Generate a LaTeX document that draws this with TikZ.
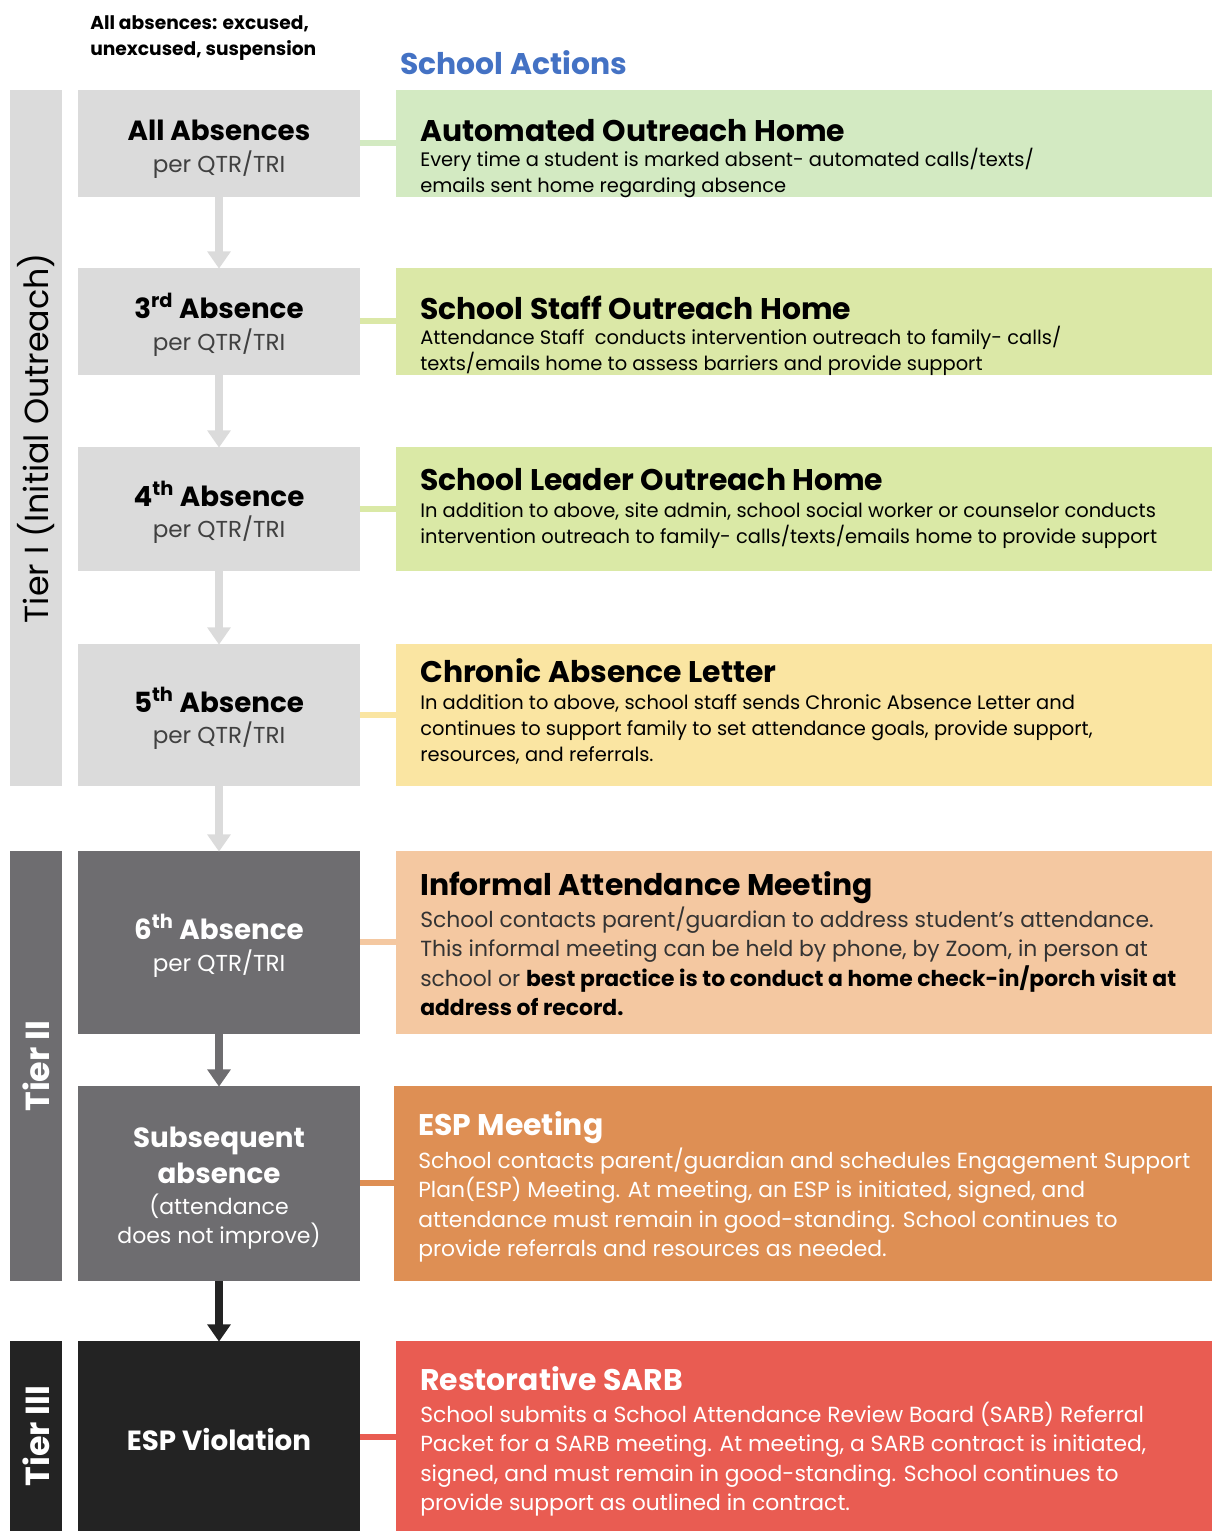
\documentclass[tikz,border=0pt]{standalone}
\usepackage{fontspec}
\setmainfont{Poppins}
\usetikzlibrary{positioning,fit,arrows.meta}

\definecolor{lightgrey}{RGB}{219,219,219}
\definecolor{midgrey}{RGB}{110,109,112}
\definecolor{nearblack}{RGB}{35,35,35}
\definecolor{actblue}{RGB}{68,114,196}
\definecolor{autogreen}{RGB}{211,234,194}
\definecolor{staffgreen}{RGB}{219,232,167}
\definecolor{leadgreen}{RGB}{218,233,166}
\definecolor{letteryellow}{RGB}{250,229,162}
\definecolor{meetpeach}{RGB}{244,200,161}
\definecolor{esporange}{RGB}{222,143,84}
\definecolor{sarbred}{RGB}{233,92,82}

% stacked lines, baseline on the first line
\newcommand\leftlines[1]{\vtop{\let\\\cr\halign{##\hfil\cr#1\cr}}}
\newcommand\midlines[1]{\vtop{\let\\\cr\halign{\hfil##\hfil\cr#1\cr}}}

\tikzset{
  box/.style={inner sep=0pt, outer sep=0pt, draw=none},
  tierbar/.style={box, fill=#1},
  stepbox/.style={box, fill=#1},
  actbox/.style={box, fill=#1},
  link/.style={line width=4.5pt, draw=#1},
  flow/.style={line width=6pt, draw=#1, -{Triangle[width=17pt,length=13pt]}, shorten >=-0.5pt},
  acthead/.style={anchor=base west, inner sep=0pt, font=\fontsize{22.4}{26}\selectfont\bfseries},
  actbody/.style={anchor=base west, inner sep=0pt, font=\fontsize{14.6}{19.5}\selectfont},
  actbodyl/.style={anchor=base west, inner sep=0pt, font=\fontsize{16.4}{22.2}\selectfont},
  steptitle/.style={anchor=base, inner sep=0pt, font=\fontsize{20.8}{27}\selectfont\bfseries},
  stepsub/.style={anchor=base, inner sep=0pt, font=\fontsize{17.3}{22}\selectfont},
  tiertext/.style={rotate=90, inner sep=0pt, font=\fontsize{25}{28}\selectfont},
}

\begin{document}
\begin{tikzpicture}[x=0.75pt, y=-0.75pt]
  %%%%% START %%%%%
  \useasboundingbox (0,0) rectangle (1212,1531);

  % headers
  \node[anchor=base west, inner sep=0pt, font=\fontsize{14}{19.5}\selectfont\bfseries] (allhead) at (90,29) {\leftlines{All absences: excused,\\unexcused, suspension}};
  \node[anchor=base west, inner sep=0pt, font=\fontsize{22.4}{26}\selectfont\bfseries, text=actblue] (acthead) at (400,74) {School Actions};

  % tier bars
  \node[tierbar=lightgrey, fit={(10,90)(62,786)}] (tier1) {};
  \node[tierbar=midgrey, fit={(10,851)(62,1281)}] (tier2) {};
  \node[tierbar=nearblack, fit={(10,1341)(62,1531)}] (tier3) {};
  \node[tiertext] (tier1txt) at (tier1.center) {Tier I (Initial Outreach)};
  \node[tiertext, text=white, font=\fontsize{25}{28}\selectfont\bfseries] (tier2txt) at (tier2.center) {Tier II};
  \node[tiertext, text=white, font=\fontsize{25}{28}\selectfont\bfseries] (tier3txt) at (tier3.center) {Tier III};

  % absence steps
  \node[stepbox=lightgrey, fit={(78,90)(360,197)}] (s1) {};
  \node[stepbox=lightgrey, fit={(78,268)(360,375)}] (s2) {};
  \node[stepbox=lightgrey, fit={(78,447)(360,571)}] (s3) {};
  \node[stepbox=lightgrey, fit={(78,644)(360,786)}] (s4) {};
  \node[stepbox=midgrey, fit={(78,851)(360,1034)}] (s5) {};
  \node[stepbox=midgrey, fit={(78,1086)(360,1281)}] (s6) {};
  \node[stepbox=nearblack, fit={(78,1341)(360,1531)}] (s7) {};

  \node[steptitle] (s1t) at (219,140) {All Absences};
  \node[stepsub, text=black!75] (s1s) at (219,172) {per QTR/TRI};
  \node[steptitle] (s2t) at (219,318) {3\textsuperscript{rd} Absence};
  \node[stepsub, text=black!75] (s2s) at (219,350) {per QTR/TRI};
  \node[steptitle] (s3t) at (219,506) {4\textsuperscript{th} Absence};
  \node[stepsub, text=black!75] (s3s) at (219,537) {per QTR/TRI};
  \node[steptitle] (s4t) at (219,712) {5\textsuperscript{th} Absence};
  \node[stepsub, text=black!75] (s4s) at (219,743) {per QTR/TRI};
  \node[steptitle, text=white] (s5t) at (219,939) {6\textsuperscript{th} Absence};
  \node[stepsub, text=white] (s5s) at (219,971) {per QTR/TRI};
  \node[steptitle, text=white] (s6t) at (219,1147) {\midlines{Subsequent\\absence}};
  \node[stepsub, text=white, font=\fontsize{16.5}{22}\selectfont] (s6s) at (219,1214) {\midlines{(attendance\\does not improve)}};
  \node[steptitle, text=white] (s7t) at (219,1450) {ESP Violation};

  % arrows down the steps
  \draw[flow=lightgrey] (s1) -- (s2);
  \draw[flow=lightgrey] (s2) -- (s3);
  \draw[flow=lightgrey] (s3) -- (s4);
  \draw[flow=lightgrey] (s4) -- (s5);
  \draw[flow=midgrey] (s5) -- (s6);
  \draw[flow=nearblack] (s6) -- (s7);

  % school actions
  \node[actbox=autogreen, fit={(396,90)(1212,197)}] (a1) {};
  \node[actbox=staffgreen, fit={(396,268)(1212,375)}] (a2) {};
  \node[actbox=leadgreen, fit={(396,447)(1212,571)}] (a3) {};
  \node[actbox=letteryellow, fit={(396,644)(1212,786)}] (a4) {};
  \node[actbox=meetpeach, fit={(396,851)(1212,1034)}] (a5) {};
  \node[actbox=esporange, fit={(394,1086)(1212,1281)}] (a6) {};
  \node[actbox=sarbred, fit={(396,1341)(1212,1531)}] (a7) {};

  \draw[link=autogreen] (s1.east |- 0,143) -- (a1.west |- 0,143);
  \draw[link=staffgreen] (s2.east |- 0,321) -- (a2.west |- 0,321);
  \draw[link=leadgreen] (s3.east |- 0,509) -- (a3.west |- 0,509);
  \draw[link=letteryellow] (s4.east |- 0,715) -- (a4.west |- 0,715);
  \draw[link=meetpeach] (s5.east |- 0,942) -- (a5.west |- 0,942);
  \draw[link=esporange] (s6.east |- 0,1183) -- (a6.west |- 0,1183);
  \draw[link=sarbred] (s7.east |- 0,1437) -- (a7.west |- 0,1437);

  \node[acthead] (a1h) at (420,141) {Automated Outreach Home};
  \node[actbody] (a1b) at (420,166) {\leftlines{Every time a student is marked absent- automated calls/texts/\\emails sent home regarding absence}};

  \node[acthead] (a2h) at (420,319) {School Staff Outreach Home};
  \node[actbody] (a2b) at (420,344) {\leftlines{Attendance Staff\ \ conducts intervention outreach to family- calls/\\texts/emails home to assess barriers and provide support}};

  \node[acthead] (a3h) at (420,490) {School Leader Outreach Home};
  \node[actbody] (a3b) at (420,517) {\leftlines{In addition to above, site admin, school social worker or counselor conducts\\intervention outreach to family- calls/texts/emails home to provide support}};

  \node[acthead] (a4h) at (420,682) {Chronic Absence Letter};
  \node[actbody] (a4b) at (420,709) {\leftlines{In addition to above, school staff sends Chronic Absence Letter and\\continues to support family to set attendance goals, provide support,\\resources, and referrals.}};

  \node[acthead] (a5h) at (420,895) {Informal Attendance Meeting};
  \node[actbodyl, text=black!80] (a5b) at (420,927) {\leftlines{School contacts parent/guardian to address student's attendance.\\This informal meeting can be held by phone, by Zoom, in person at\\school or \textcolor{black}{\bfseries best practice is to conduct a home check-in/porch visit at}\\\textcolor{black}{\bfseries address of record.}}};

  \node[acthead, text=white] (a6h) at (418,1135) {ESP Meeting};
  \node[actbodyl, text=white] (a6b) at (418,1168) {\leftlines{School contacts parent/guardian and schedules Engagement Support\\Plan(ESP) Meeting. At meeting, an ESP is initiated, signed, and\\attendance must remain in good-standing. School continues to\\provide referrals and resources as needed.}};

  \node[acthead, text=white] (a7h) at (420,1390) {Restorative SARB};
  \node[actbodyl, text=white] (a7b) at (420,1422) {\leftlines{School submits a School Attendance Review Board (SARB) Referral\\Packet for a SARB meeting. At meeting, a SARB contract is initiated,\\signed, and must remain in good-standing. School continues to\\provide support as outlined in contract.}};
  %%%%% END %%%%%
\end{tikzpicture}
\end{document}
